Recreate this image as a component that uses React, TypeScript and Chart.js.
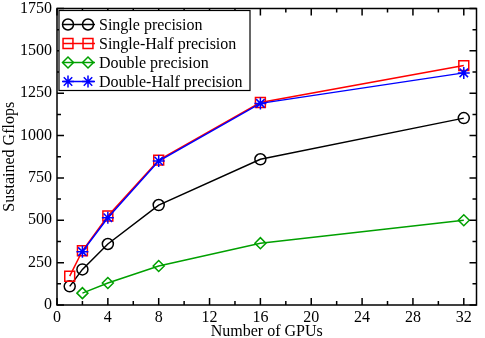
import React, { useEffect, useRef } from "react";
import { Chart, registerables } from "chart.js";

Chart.register(...registerables);

const gpus1 = [1, 2, 4, 8, 16, 32];
const gpus2 = [2, 4, 8, 16, 32];
const singlePrecision = [110, 210, 360, 590, 860, 1103];
const singleHalfPrecision = [170, 320, 525, 855, 1195, 1413];
const doublePrecision = [70, 130, 230, 365, 500];
const doubleHalfPrecision = [315, 515, 850, 1190, 1370];
const xTickValues = [0, 4, 8, 12, 16, 20, 24, 28, 32];
const yTickValues = [0, 250, 500, 750, 1000, 1250, 1500, 1750];
const seriesNames = ["Single precision", "Single-Half precision", "Double precision", "Double-Half precision"];
const xTitle = "Number of GPUs";
const yTitle = "Sustained Gflops";

const FONT = "'Liberation Serif', 'Times New Roman', serif";

function drawMarker(ctx: CanvasRenderingContext2D, style: string, x: number, y: number, r: number) {
  ctx.beginPath();
  if (style === "circle") {
    ctx.arc(x, y, r, 0, Math.PI * 2);
  } else if (style === "rect") {
    const s = Math.SQRT1_2 * r;
    ctx.rect(x - s, y - s, 2 * s, 2 * s);
  } else if (style === "rectRot") {
    ctx.moveTo(x - r, y);
    ctx.lineTo(x, y - r);
    ctx.lineTo(x + r, y);
    ctx.lineTo(x, y + r);
    ctx.closePath();
  } else if (style === "star") {
    for (let k = 0; k < 4; k++) {
      const a = (k * Math.PI) / 4;
      ctx.moveTo(x - Math.cos(a) * r, y - Math.sin(a) * r);
      ctx.lineTo(x + Math.cos(a) * r, y + Math.sin(a) * r);
    }
  }
  ctx.stroke();
}

const zeroPad = () => ({ left: 0, top: 0, right: 0, bottom: 0 });

const framePlugin = {
  id: "frameTicks",
  afterDatasetsDraw(chart: any) {
    const { ctx, chartArea } = chart;
    const xs = chart.scales.x;
    const ys = chart.scales.y;
    ctx.save();
    ctx.strokeStyle = "#000";
    ctx.lineWidth = 1.5;
    ctx.strokeRect(chartArea.left, chartArea.top, chartArea.right - chartArea.left, chartArea.bottom - chartArea.top);
    ctx.beginPath();
    for (let v = 0; v <= 32; v += 2) {
      const px = xs.getPixelForValue(v);
      const len = v % 4 === 0 ? 7 : 4;
      ctx.moveTo(px, chartArea.bottom);
      ctx.lineTo(px, chartArea.bottom - len);
      ctx.moveTo(px, chartArea.top);
      ctx.lineTo(px, chartArea.top + len);
    }
    for (let v = 0; v <= 1750; v += 125) {
      const py = ys.getPixelForValue(v);
      const len = v % 250 === 0 ? 7 : 4;
      ctx.moveTo(chartArea.left, py);
      ctx.lineTo(chartArea.left + len, py);
      ctx.moveTo(chartArea.right, py);
      ctx.lineTo(chartArea.right - len, py);
    }
    ctx.stroke();

    // legend
    const bx = chartArea.left + 2;
    const by = chartArea.top + 2;
    const bw = 191;
    const bh = 80;
    ctx.fillStyle = "#fff";
    ctx.fillRect(bx, by, bw, bh);
    ctx.lineWidth = 1.2;
    ctx.strokeRect(bx, by, bw, bh);
    ctx.font = `16px ${FONT}`;
    ctx.textBaseline = "middle";
    ctx.textAlign = "left";
    chart.data.datasets.forEach((ds: any, i: number) => {
      const y = by + 14 + i * 19;
      ctx.strokeStyle = ds.borderColor;
      ctx.lineWidth = 1.5;
      ctx.beginPath();
      ctx.moveTo(bx + 4, y);
      ctx.lineTo(bx + 36, y);
      ctx.stroke();
      drawMarker(ctx, ds.pointStyle, bx + 9, y, ds.pointRadius);
      drawMarker(ctx, ds.pointStyle, bx + 29, y, ds.pointRadius);
      ctx.fillStyle = "#000";
      ctx.fillText(ds.label, bx + 40, y + 1);
    });
    ctx.restore();
  },
};

export default function App() {
  const ref = useRef<HTMLCanvasElement>(null);
  useEffect(() => {
    document.body.style.margin = "0";
    const mk = (label: string, xs: number[], ys: number[], color: string, style: string, r: number, order: number) => ({
      label,
      data: xs.map((x, i) => ({ x, y: ys[i] })),
      borderColor: color,
      backgroundColor: "rgba(0,0,0,0)",
      pointBackgroundColor: "rgba(0,0,0,0)",
      pointBorderColor: color,
      pointStyle: style,
      pointRadius: r,
      pointBorderWidth: 1.5,
      borderWidth: 1.5,
      tension: 0,
      order,
    });
    const chart = new Chart(ref.current!, {
      type: "line",
      data: {
        datasets: [
          mk(seriesNames[0], gpus1, singlePrecision, "#000000", "circle", 5.5, 3),
          mk(seriesNames[1], gpus1, singleHalfPrecision, "#ff0000", "rect", 7, 2),
          mk(seriesNames[2], gpus2, doublePrecision, "#00a000", "rectRot", 5.5, 1),
          mk(seriesNames[3], gpus2, doubleHalfPrecision, "#0000ff", "star", 6, 0),
        ] as any,
      },
      options: {
        animation: false,
        responsive: false,
        maintainAspectRatio: false,
        layout: { padding: { top: 7, right: -1, left: 0, bottom: 0 } },
        plugins: { legend: { display: false }, tooltip: { enabled: false } },
        scales: {
          x: {
            type: "linear",
            min: 0,
            max: 33,
            afterFit: (s: any) => { s.height = 33; s.paddingLeft = 0; s.paddingRight = 0; s.getPadding = zeroPad; },
            afterBuildTicks: (s: any) => {
              s.ticks = xTickValues.map((v) => ({ value: v }));
            },
            grid: { display: false, drawTicks: false },
            border: { display: false },
            ticks: { color: "#000", font: { family: FONT, size: 16 }, padding: 3, maxRotation: 0, autoSkip: false, callback: (v: any) => String(v) },
            title: { display: true, text: xTitle, color: "#000", font: { family: FONT, size: 16 }, padding: { top: 0, bottom: -3 } },
          },
          y: {
            type: "linear",
            min: 0,
            max: 1750,
            afterFit: (s: any) => { s.width = 57; s.paddingTop = 0; s.paddingBottom = 0; s.getPadding = zeroPad; },
            afterBuildTicks: (s: any) => {
              s.ticks = yTickValues.map((v) => ({ value: v }));
            },
            grid: { display: false, drawTicks: false },
            border: { display: false },
            ticks: { color: "#000", font: { family: FONT, size: 16 }, padding: 5, autoSkip: false, callback: (v: any) => String(v) },
            title: { display: true, text: yTitle, color: "#000", font: { family: FONT, size: 16 }, padding: { top: 0, bottom: 0 } },
          },
        },
      },
      plugins: [framePlugin],
    });
    return () => chart.destroy();
  }, []);
  return (
    <div style={{ position: "fixed", left: 0, top: 0, width: 485, height: 338, background: "#fff" }}>
      <canvas ref={ref} width={485} height={338} style={{ width: 485, height: 338 }} />
    </div>
  );
}
